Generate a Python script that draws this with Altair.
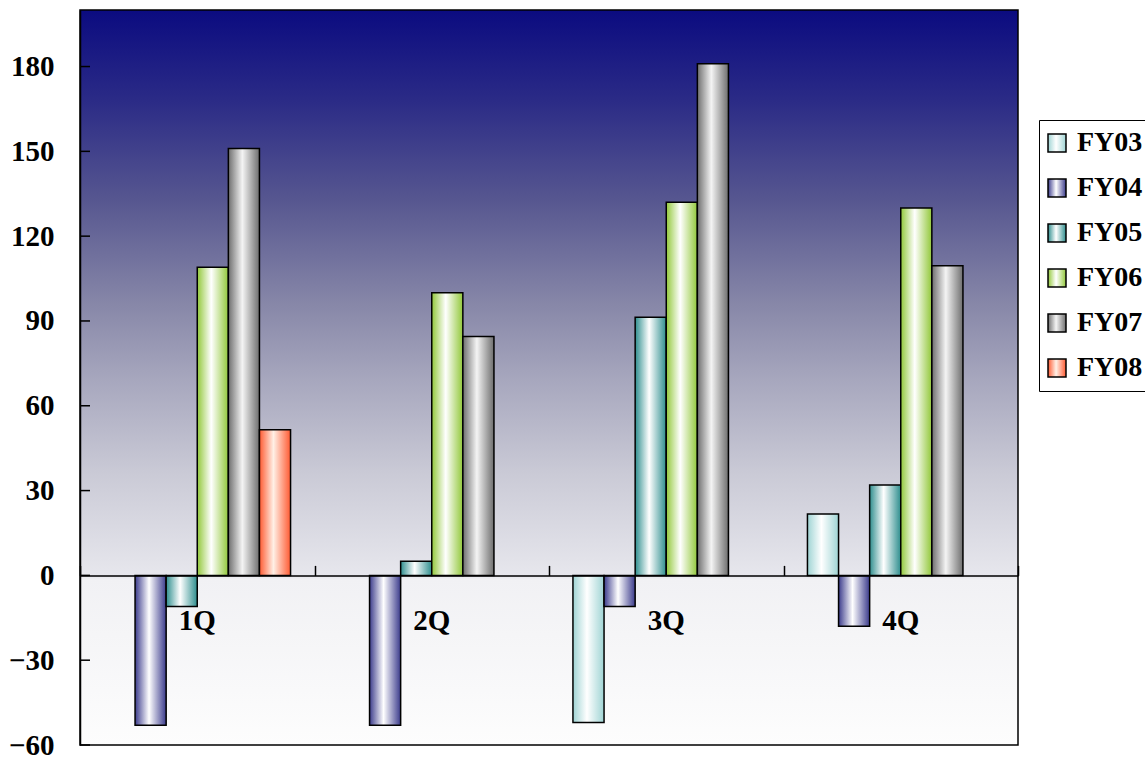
import altair as alt
import pandas as pd

# Quarterly figures per fiscal year (None = no bar)
quarters = ["1Q", "2Q", "3Q", "4Q"]
series = ["FY03", "FY04", "FY05", "FY06", "FY07", "FY08"]
fy03 = [None, None, -52, 21.7]
fy04 = [-53, -53, -11, -18]
fy05 = [-11, 5, 91.3, 32]
fy06 = [109, 100, 132, 130]
fy07 = [151, 84.5, 181, 109.5]
fy08 = [51.5, None, None, None]
y_ticks = [-60, -30, 0, 30, 60, 90, 120, 150, 180]

# edge / centre colours of each series' horizontal gradient
edge_colors = ["#9fd4d4", "#3b3b8c", "#2e8e8e", "#92c83a", "#6e6e6e", "#ff5a32"]
center_colors = ["#ffffff", "#ffffff", "#ffffff", "#ffffff", "#f4f4f4", "#fff0e6"]

rows = []
for name, vals in zip(series, [fy03, fy04, fy05, fy06, fy07, fy08]):
    for q, v in zip(quarters, vals):
        if v is not None:
            rows.append({"quarter": q, "series": name, "value": v})
df = pd.DataFrame(rows)

W, H = 938, 735
Y_MIN, Y_MAX = -60, 200
zero_offset = H * Y_MAX / (Y_MAX - Y_MIN)

serif = "Liberation Serif"
AXIS_FONT = 29
LEGEND_FONT = 28


def bar_gradient(edge, center):
    return {
        "expr": (
            "{gradient:'linear',x1:0,y1:0,x2:1,y2:0,stops:["
            f"{{offset:0,color:'{edge}'}},"
            f"{{offset:0.45,color:'{center}'}},"
            f"{{offset:1,color:'{edge}'}}]}}"
        )
    }


color_range = [bar_gradient(e, c) for e, c in zip(edge_colors, center_colors)]

y_scale = alt.Scale(domain=[Y_MIN, Y_MAX], nice=False, zero=False)
x_scale = alt.Scale(domain=quarters, paddingInner=0, paddingOuter=0)

x_axis = alt.Axis(
    orient="top",
    offset=-zero_offset,
    labels=False,
    title=None,
    tickBand="extent",
    tickSize=10,
    tickColor="black",
    tickWidth=1.5,
    domainColor="black",
    domainWidth=1.5,
    grid=False,
    zindex=1,
)

y_axis = alt.Axis(
    values=y_ticks,
    title=None,
    ticks=False,
    grid=False,
    labelFont=serif,
    labelFontWeight="bold",
    labelFontSize=AXIS_FONT,
    labelColor="black",
    labelPadding=26,
    domainColor="black",
    domainWidth=1.5,
    zindex=1,
)

# plot-area background: navy fading to white
background = alt.Chart(alt.Data(values=[{}])).mark_rect(
    fill=alt.Gradient(
        gradient="linear",
        x1=0, y1=0, x2=0, y2=1,
        stops=[
            alt.GradientStop(offset=0, color="#0b0b80"),
            alt.GradientStop(offset=0.12, color="#2a2a86"),
            alt.GradientStop(offset=0.26, color="#575790"),
            alt.GradientStop(offset=0.4, color="#8787a8"),
            alt.GradientStop(offset=0.5, color="#a6a6bd"),
            alt.GradientStop(offset=0.63, color="#cacad6"),
            alt.GradientStop(offset=0.77, color="#e7e7ed"),
            alt.GradientStop(offset=0.775, color="#f1f1f4"),
            alt.GradientStop(offset=1, color="#fdfdfd"),
        ],
    ),
    stroke="black",
    strokeWidth=1.5,
).encode(
    x=alt.value(0), x2=alt.value(W), y=alt.value(0), y2=alt.value(H)
)

bars = alt.Chart(df).mark_bar(stroke="black", strokeWidth=1.5).encode(
    x=alt.X("quarter:N", scale=x_scale, axis=x_axis, sort=quarters),
    xOffset=alt.XOffset(
        "series:N",
        scale=alt.Scale(domain=series, paddingInner=0, paddingOuter=0.77),
    ),
    y=alt.Y("value:Q", scale=y_scale, axis=y_axis),
    color=alt.Color(
        "series:N",
        scale=alt.Scale(domain=series, range=color_range),
        legend=alt.Legend(
            title=None,
            orient="none",
            legendX=959,
            legendY=110,
            direction="vertical",
            strokeColor="black",
            fillColor="white",
            padding=9,
            rowPadding=17,
            symbolType="square",
            symbolSize=324,
            symbolOffset=-5,
            symbolStrokeColor="black",
            symbolStrokeWidth=1.5,
            labelFont=serif,
            labelFontWeight="bold",
            labelFontSize=LEGEND_FONT,
            labelColor="black",
            labelOffset=6,
            labelLimit=200,
        ),
    ),
)

# inward tick marks on the value axis
tick_df = pd.DataFrame({"t": y_ticks})
tick_marks = alt.Chart(tick_df).mark_rule(
    color="black", strokeWidth=1.5
).encode(
    y=alt.Y("t:Q", scale=y_scale),
    x=alt.value(0),
    x2=alt.value(10),
)

# quarter labels sitting just under the zero line
label_df = pd.DataFrame({"quarter": quarters, "base": [0] * len(quarters)})
labels = alt.Chart(label_df).mark_text(
    font=serif,
    fontWeight="bold",
    fontSize=AXIS_FONT,
    fill="black",
    baseline="middle",
    align="center",
    dy=46,
).encode(
    x=alt.X("quarter:N", scale=x_scale, sort=quarters),
    y=alt.Y("base:Q", scale=y_scale),
    text="quarter:N",
)

chart = (
    alt.layer(background, bars, tick_marks, labels)
    .properties(
        width=W,
        height=H,
        padding={"left": 80, "top": 10, "right": 127, "bottom": 13},
        autosize=alt.AutoSizeParams(type="none"),
        background="white",
    )
    .configure_view(stroke=None)
)

chart.save("out.html", embed_options={"renderer": "svg", "actions": False})
